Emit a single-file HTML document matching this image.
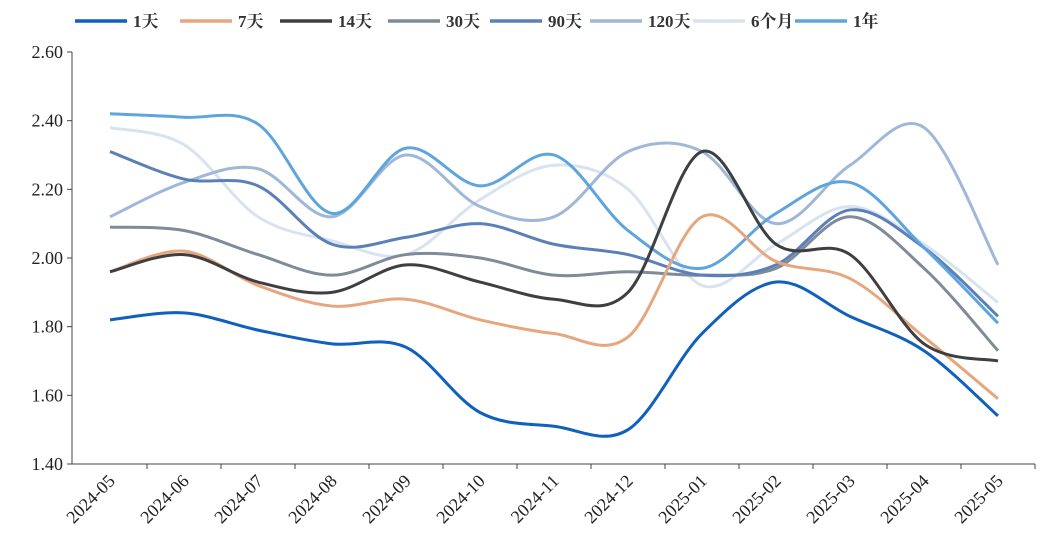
<!DOCTYPE html>
<html><head><meta charset="utf-8"><style>
body{margin:0;background:#fff;}
svg text{font-family:"Liberation Serif","Noto Serif CJK SC",serif;}
</style></head><body>
<svg id="chart" width="1047" height="555"></svg>
<script>
const categories=["2024-05","2024-06","2024-07","2024-08","2024-09","2024-10","2024-11","2024-12","2025-01","2025-02","2025-03","2025-04","2025-05"];
const seriesNames=["1天","7天","14天","30天","90天","120天","6个月","1年"];
const s1d=[1.82,1.84,1.79,1.75,1.74,1.55,1.51,1.50,1.78,1.93,1.83,1.73,1.54];
const s7d=[1.96,2.02,1.92,1.86,1.88,1.82,1.78,1.77,2.12,1.99,1.94,1.77,1.59];
const s14d=[1.96,2.01,1.93,1.90,1.98,1.93,1.88,1.90,2.31,2.04,2.01,1.75,1.70];
const s30d=[2.09,2.08,2.01,1.95,2.01,2.00,1.95,1.96,1.95,1.97,2.12,1.97,1.73];
const s90d=[2.31,2.23,2.21,2.04,2.06,2.10,2.04,2.01,1.95,1.98,2.14,2.03,1.83];
const s120d=[2.12,2.22,2.26,2.12,2.30,2.15,2.12,2.31,2.31,2.10,2.27,2.38,1.98];
const s6m=[2.38,2.33,2.12,2.05,2.01,2.17,2.27,2.20,1.92,2.04,2.15,2.04,1.87];
const s1y=[2.42,2.41,2.39,2.13,2.32,2.21,2.30,2.08,1.97,2.13,2.22,2.03,1.81];
const yTicks=[1.40,1.60,1.80,2.00,2.20,2.40,2.60];
const colors=["#1060bd","#e6a77e","#3f3f42","#7f8b98","#5b80b8","#9fb8d9","#d9e3f0","#5ea5dd"];
const allSeries=[s1d,s7d,s14d,s30d,s90d,s120d,s6m,s1y];

const svg=document.getElementById('chart');
const NS="http://www.w3.org/2000/svg";
const X0=72,X1=1035,Y0=464,Y1=52;
const x=i=>110+i*74;
const y=v=>Y0-(v-1.40)/(1.20)*(Y0-Y1);
function mk(t,a){const e=document.createElementNS(NS,t);for(const k in a)e.setAttribute(k,a[k]);svg.appendChild(e);return e;}

const ax=mk('path',{d:`M${X0} ${Y1}V${Y0}H${X1}`,stroke:'#444',fill:'none','stroke-width':1});


yTicks.forEach(t=>{
  const tk=mk('line',{x1:X0-5,x2:X0,y1:y(t),y2:y(t),stroke:'#444'});
  
  
  const tx=mk('text',{x:X0-9,y:y(t)+6,'text-anchor':'end','font-size':18,fill:'#222'});
  tx.textContent=t.toFixed(2);
  
  
});
categories.forEach((c,i)=>{
  const tk=mk('line',{x1:x(i)+37,x2:x(i)+37,y1:Y0,y2:Y0+5,stroke:'#444'});
  
  
  const tx=mk('text',{x:x(i)+6,y:Y0+18,'text-anchor':'end','font-size':18,fill:'#222',transform:`rotate(-45 ${x(i)+6} ${Y0+18})`});
  tx.textContent=c;
  
  
});
function smooth(vals){
  const p=vals.map((v,i)=>[x(i),y(v)]);
  let d=`M${p[0][0]} ${p[0][1]}`;
  for(let i=0;i<p.length-1;i++){
    const p0=p[Math.max(i-1,0)],p1=p[i],p2=p[i+1],p3=p[Math.min(i+2,p.length-1)];
    const t=6;
    d+=` C${p1[0]+(p2[0]-p0[0])/t} ${p1[1]+(p2[1]-p0[1])/t} ${p2[0]-(p3[0]-p1[0])/t} ${p2[1]-(p3[1]-p1[1])/t} ${p2[0]} ${p2[1]}`;
  }
  return d;
}
const order=[6,5,3,4,7,1,2,0];
order.forEach(k=>{
  const pl=mk('path',{d:smooth(allSeries[k]),stroke:colors[k],fill:'none','stroke-width':3,'stroke-linejoin':'round'});
  
  
});
const lx=[75,180,280,388,490,590,693,795];
seriesNames.forEach((n,k)=>{
  const l=mk('line',{x1:lx[k],x2:lx[k]+52,y1:21,y2:21,stroke:colors[k],'stroke-width':3.5});
  
  
  const t=mk('text',{x:lx[k]+58,y:27,'font-size':17,'font-weight':'bold',fill:'#333'});
  t.textContent=n;
  
  
});
</script>
</body></html>
